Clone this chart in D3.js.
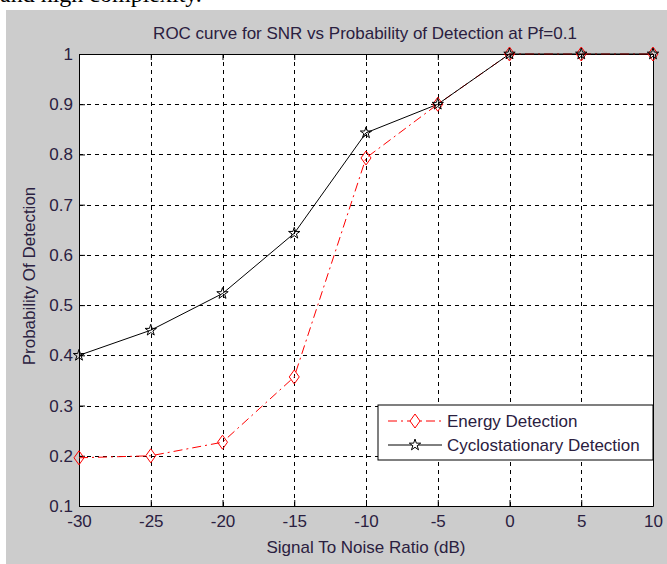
<!DOCTYPE html>
<html>
<head>
<meta charset="utf-8">
<script src="https://cdn.jsdelivr.net/npm/d3@7"></script>
<style>
  body { margin: 0; background: #fff; }
  text { font-family: "Liberation Sans", Arial, sans-serif; }
</style>
</head>
<body>
<svg id="svg1" width="667" height="564"></svg>
<script>
var svg = d3.select('#svg1');

// data
var snr = [-30, -25, -20, -15, -10, -5, 0, 5, 10];
var energyPd = [0.196, 0.200, 0.227, 0.357, 0.793, 0.900, 1, 1, 1];
var cycloPd = [0.400, 0.450, 0.523, 0.643, 0.843, 0.900, 1, 1, 1];
var xTicks = [-30, -25, -20, -15, -10, -5, 0, 5, 10];
var yTicks = [0.1, 0.2, 0.3, 0.4, 0.5, 0.6, 0.7, 0.8, 0.9, 1];
var seriesNames = ['Energy Detection', 'Cyclostationary Detection'];

var plot = {l: 79, r: 653, t: 54, b: 506};
var fontSize = '17px';
var textColor = '#2a2040';

// page text strip above the figure (cut off in the original too)
svg.append('text')
    .attr('x', 0)
    .attr('y', 2)
    .style('font-family', '"Liberation Serif", "Times New Roman", serif')
    .style('font-size', '24px')
    .text('and high complexity.');

svg.append('rect')
    .attr('x', 6).attr('y', 10)
    .attr('width', 661).attr('height', 554)
    .attr('fill', '#cccccc');

var x = d3.scaleLinear().domain([-30, 10]).range([plot.l, plot.r]);
var y = d3.scaleLinear().domain([0.1, 1]).range([plot.b, plot.t]);

svg.append('rect')
    .attr('x', plot.l).attr('y', plot.t)
    .attr('width', plot.r - plot.l).attr('height', plot.b - plot.t)
    .attr('fill', '#fff');

// grid
var grid = svg.append('g').attr('class', 'grid')
    .attr('stroke', '#000').attr('stroke-width', 1)
    .attr('stroke-dasharray', '4,4');
grid.selectAll('line.gx')
    .data(xTicks.slice(1, -1))
    .enter().append('line')
    .attr('class', 'gx')
    .attr('x1', function(d) { return Math.round(x(d)) + 0.5; })
    .attr('x2', function(d) { return Math.round(x(d)) + 0.5; })
    .attr('y1', plot.t).attr('y2', plot.b);
grid.selectAll('line.gy')
    .data(yTicks.slice(1, -1))
    .enter().append('line')
    .attr('class', 'gy')
    .attr('y1', function(d) { return Math.round(y(d)) + 0.5; })
    .attr('y2', function(d) { return Math.round(y(d)) + 0.5; })
    .attr('x1', plot.l).attr('x2', plot.r);

// axes (ticks inside, like matlab); plain hyphen for minus
var fmt = function(d) { return String(d); };
svg.append('g')
    .attr('transform', 'translate(0,' + plot.b + ')')
    .call(d3.axisBottom(x).tickValues(xTicks).tickFormat(fmt).tickSizeInner(-6).tickSizeOuter(0).tickPadding(9));
svg.append('g')
    .attr('transform', 'translate(0,' + plot.t + ')')
    .call(d3.axisTop(x).tickValues(xTicks).tickSizeInner(-6).tickSizeOuter(0).tickFormat(''));
svg.append('g')
    .attr('transform', 'translate(' + plot.l + ',0)')
    .call(d3.axisLeft(y).tickValues(yTicks).tickFormat(fmt).tickSizeInner(-6).tickSizeOuter(0).tickPadding(6));
svg.append('g')
    .attr('transform', 'translate(' + plot.r + ',0)')
    .call(d3.axisRight(y).tickValues(yTicks).tickSizeInner(-6).tickSizeOuter(0).tickFormat(''));

svg.selectAll('.domain').attr('stroke', '#000');
svg.selectAll('.tick line').attr('stroke', '#000');
svg.selectAll('.tick text')
    .style('font-size', fontSize)
    .style('font-family', '"Liberation Sans", Arial, sans-serif')
    .attr('fill', textColor);

// lines
var line = function(vals) {
    return d3.line()
        .x(function(d, i) { return x(snr[i]); })
        .y(function(d) { return y(d); })(vals);
};

svg.append('path')
    .attr('d', line(energyPd))
    .attr('fill', 'none')
    .attr('stroke', '#ff0000')
    .attr('stroke-width', 1)
    .attr('stroke-dasharray', '9,4,2,4');

svg.append('path')
    .attr('d', line(cycloPd))
    .attr('fill', 'none')
    .attr('stroke', '#000')
    .attr('stroke-width', 1);

var diamond = 'M0,-7L5,0L0,7L-5,0Z';
var star = d3.symbol().type(d3.symbolStar).size(40)();

svg.selectAll('path.emark')
    .data(energyPd)
    .enter().append('path')
    .attr('class', 'emark')
    .attr('d', diamond)
    .attr('transform', function(d, i) { return 'translate(' + x(snr[i]) + ',' + y(d) + ')'; })
    .attr('fill', 'none')
    .attr('stroke', '#ff0000');

svg.selectAll('path.cmark')
    .data(cycloPd)
    .enter().append('path')
    .attr('class', 'cmark')
    .attr('d', star)
    .attr('transform', function(d, i) { return 'translate(' + x(snr[i]) + ',' + y(d) + ')'; })
    .attr('fill', 'none')
    .attr('stroke', '#000');

// title and labels
svg.append('text')
    .attr('x', 365)
    .attr('y', 39)
    .attr('text-anchor', 'middle')
    .attr('fill', textColor)
    .style('font-size', fontSize)
    .text('ROC curve for SNR vs Probability of Detection at Pf=0.1');

svg.append('text')
    .attr('x', (plot.l + plot.r) / 2)
    .attr('y', 553)
    .attr('text-anchor', 'middle')
    .attr('fill', textColor)
    .style('font-size', fontSize)
    .text('Signal To Noise Ratio (dB)');

svg.append('text')
    .attr('transform', 'translate(' + 35 + ',' + 276 + ') rotate(-90)')
    .attr('text-anchor', 'middle')
    .attr('fill', textColor)
    .style('font-size', fontSize)
    .text('Probability Of Detection');

// legend
var legend = svg.append('g').attr('transform', 'translate(378,405)');
legend.append('rect')
    .attr('width', 275).attr('height', 55)
    .attr('fill', '#fff').attr('stroke', '#000');

var legendStyles = [
    {stroke: '#ff0000', dash: '9,4,2,4', mark: diamond},
    {stroke: '#000', dash: null, mark: star}
];
var legendRows = legend.selectAll('g.row')
    .data(seriesNames)
    .enter().append('g')
    .attr('class', 'row')
    .attr('transform', function(d, i) { return 'translate(0,' + (16 + i * 24) + ')'; });
legendRows.append('line')
    .attr('x1', 10).attr('x2', 64)
    .attr('stroke', function(d, i) { return legendStyles[i].stroke; })
    .attr('stroke-dasharray', function(d, i) { return legendStyles[i].dash; });
legendRows.append('path')
    .attr('d', function(d, i) { return legendStyles[i].mark; })
    .attr('transform', 'translate(37,0)')
    .attr('fill', '#fff')
    .attr('stroke', function(d, i) { return legendStyles[i].stroke; });
legendRows.append('text')
    .attr('x', 69).attr('y', 6)
    .attr('fill', textColor)
    .style('font-size', fontSize)
    .text(function(d) { return d; });
</script>
</body>
</html>
